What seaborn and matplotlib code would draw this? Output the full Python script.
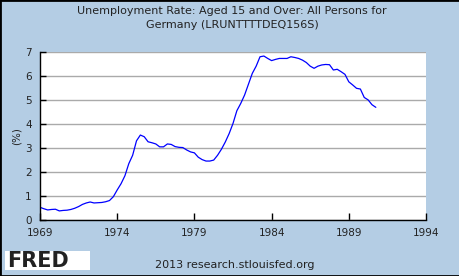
import matplotlib
matplotlib.use("Agg")
import matplotlib.pyplot as plt
import seaborn as sns
import pandas as pd
import numpy as np
from matplotlib.patches import Rectangle

sns.set_theme(style="white")
plt.rcParams['font.family'] = ['DejaVu Sans']

years = list(range(1969, 1991))
quarter_offsets = [0.0, 0.25, 0.5, 0.75]
rate = [
    0.54, 0.48, 0.43, 0.45,   # 1969
    0.46, 0.39, 0.41, 0.42,   # 1970
    0.45, 0.50, 0.57, 0.66,   # 1971
    0.72, 0.76, 0.72, 0.73,   # 1972
    0.74, 0.77, 0.82, 0.98,   # 1973
    1.26, 1.52, 1.85, 2.35,   # 1974
    2.70, 3.30, 3.54, 3.47,   # 1975
    3.26, 3.22, 3.17, 3.05,   # 1976
    3.05, 3.17, 3.15, 3.06,   # 1977
    3.03, 3.02, 2.92, 2.84,   # 1978
    2.80, 2.62, 2.52, 2.46,   # 1979
    2.46, 2.50, 2.70, 2.95,   # 1980
    3.25, 3.60, 4.02, 4.55,   # 1981
    4.85, 5.20, 5.65, 6.10,   # 1982
    6.40, 6.79, 6.82, 6.72,   # 1983
    6.63, 6.68, 6.72, 6.72,   # 1984
    6.72, 6.79, 6.76, 6.72,   # 1985
    6.65, 6.55, 6.40, 6.31,   # 1986
    6.40, 6.45, 6.47, 6.46,   # 1987
    6.24, 6.27, 6.17, 6.06,   # 1988
    5.75, 5.62, 5.48, 5.45,   # 1989
    5.10, 5.00, 4.80, 4.69,   # 1990
]
x_ticks = [1969, 1974, 1979, 1984, 1989, 1994]
y_ticks = [0, 1, 2, 3, 4, 5, 6, 7]
title = "Unemployment Rate: Aged 15 and Over: All Persons for\nGermany (LRUNTTTTDEQ156S)"

t = [y + q for y in years for q in quarter_offsets]
df = pd.DataFrame({"date": t, "rate": rate})

bg = "#B4CDE4"
fig = plt.figure(figsize=(4.6, 2.76), dpi=100, facecolor=bg)
ax = fig.add_axes([40/460, 1 - 220.3/276, (426 - 40)/460, (220.3 - 51.7)/276])
ax.set_facecolor("white")

sns.lineplot(data=df, x="date", y="rate", ax=ax, color="#0000FF", linewidth=0.9)

ax.set_xlim(1969, 1994)
ax.set_ylim(0, 7)
ax.set_xticks(x_ticks)
ax.set_yticks(y_ticks)
ax.yaxis.grid(True, color="#AAAAAA", linewidth=1.0)
ax.xaxis.grid(False)
ax.set_axisbelow(True)
for s in ["top", "right"]:
    ax.spines[s].set_visible(False)
ax.spines["left"].set_color("black")
ax.spines["bottom"].set_color("black")
ax.spines["left"].set_linewidth(1.0)
ax.spines["bottom"].set_linewidth(1.0)
ax.tick_params(axis="x", direction="in", length=5, width=1, color="black",
               labelsize=7.5, labelcolor="#222222", pad=5.5, bottom=True)
ax.tick_params(axis="y", direction="in", length=4, width=1, color="black",
               labelsize=7.5, labelcolor="#222222", pad=6, left=True)
ax.set_xlabel("")
ax.set_ylabel("(%)", fontsize=7.5, color="#222222", labelpad=2.5)

fig.text(0.505, 1 - 18/276, title, ha="center", va="center", fontsize=8,
         color="#222222", linespacing=1.5)

# FRED logo box
fig.patches.append(Rectangle((5/460, 1 - 270/276), 85/460, 19/276,
                             transform=fig.transFigure, facecolor="white",
                             edgecolor="none", zorder=2))
fig.text(7/460, 1 - 261/276, "FRED", ha="left", va="center", fontsize=15,
         fontweight="bold", color="#222222", zorder=3)
fig.text(235/460, 1 - 265/276, "2013 research.stlouisfed.org", ha="center",
         va="center", fontsize=8, color="#222222")

# figure border
fig.patches.append(Rectangle((0, 0), 1, 1, transform=fig.transFigure,
                             facecolor="none", edgecolor="black", linewidth=2,
                             zorder=5))

fig.savefig("out.png", dpi=100, facecolor=bg)
